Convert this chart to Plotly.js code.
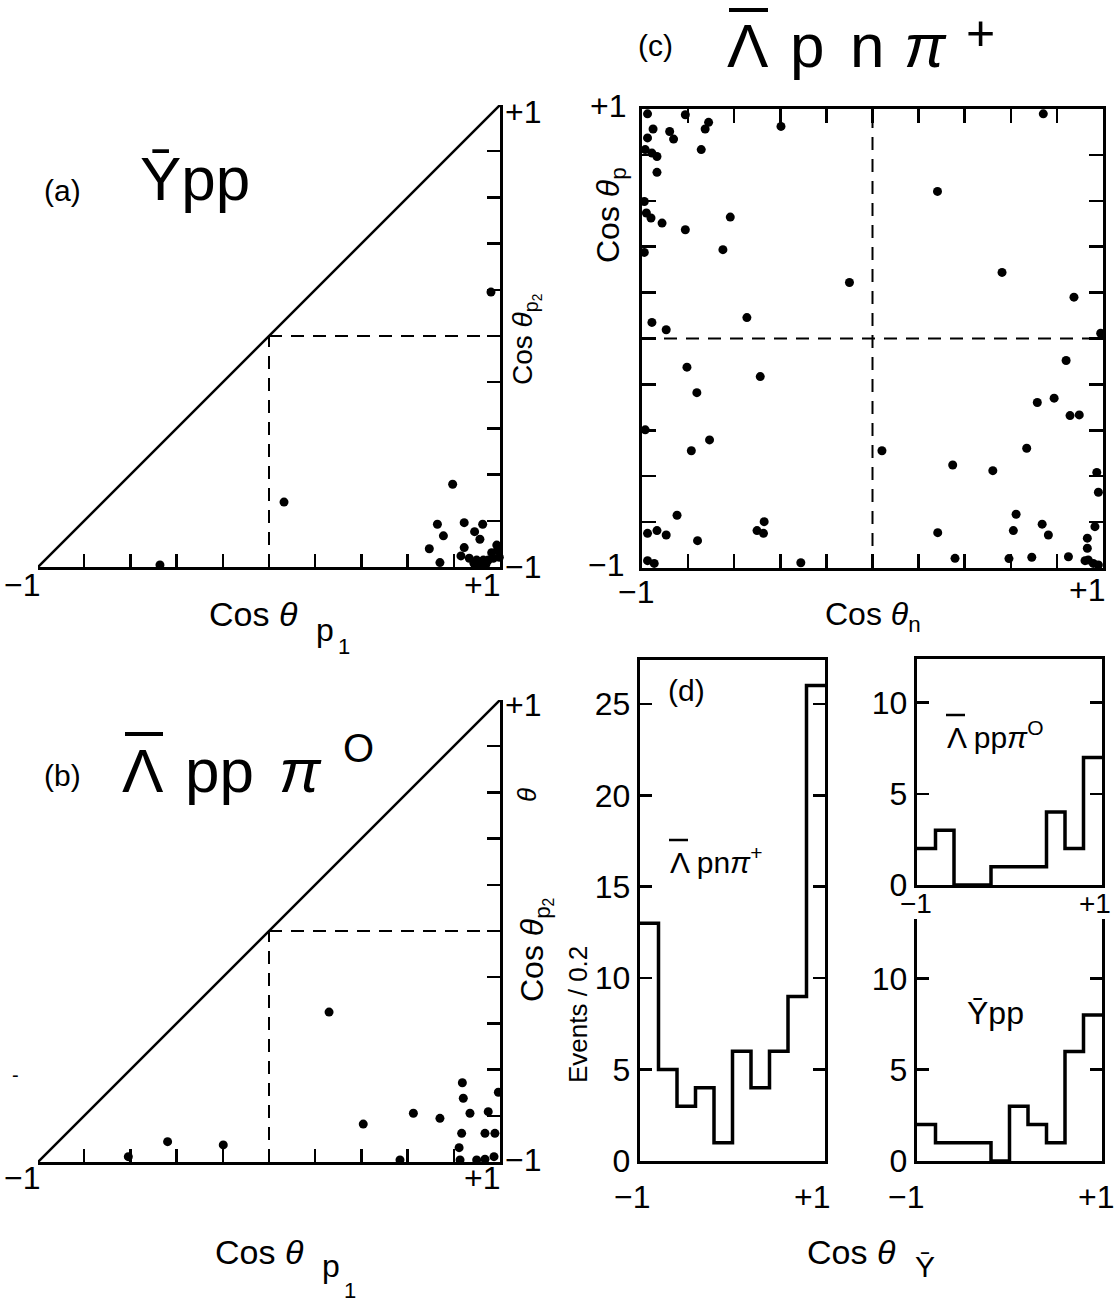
<!DOCTYPE html>
<html>
<head>
<meta charset="utf-8">
<script src="https://cdn.plot.ly/plotly-3.0.1.min.js"></script>
<style>html,body{margin:0;padding:0;background:#fff;}#chart{width:1115px;height:1302px;}</style>
</head>
<body>
<div id="chart"></div>
<script>
// ---------- DATA ----------
// (a) Ybar p p : cos theta_p1 vs cos theta_p2
const yppCosP1 = [-0.472, 0.065, 0.961, 0.795, 0.729, 0.845, 0.925, 0.755, 0.890, 0.913, 0.694, 0.845, 0.831, 0.740, 0.867, 0.899, 0.928, 0.949, 0.964, 0.990, 0.986, 0.971, 0.997, 0.913, 0.939, 0.887];
const yppCosP2 = [-0.991, -0.719, 0.190, -0.642, -0.815, -0.808, -0.815, -0.865, -0.847, -0.880, -0.921, -0.916, -0.952, -0.981, -0.962, -0.970, -0.970, -0.970, -0.938, -0.926, -0.905, -0.962, -0.958, -0.991, -0.988, -0.984];
// (b) Lambdabar p p pi0
const lppCosP1 = [0.260, -0.439, -0.198, -0.609, 0.408, 0.625, 0.740, 0.837, 0.841, 0.870, 0.949, 0.993, 0.834, 0.935, 0.978, 0.823, 0.827, 0.899, 0.935, 0.974, 0.567];
const lppCosP2 = [-0.351, -0.912, -0.926, -0.977, -0.836, -0.789, -0.811, -0.657, -0.724, -0.789, -0.782, -0.698, -0.876, -0.876, -0.876, -0.938, -0.991, -0.991, -0.988, -0.977, -0.991];
// (c) Lambdabar p n pi+ : cos theta_n vs cos theta_p
const lpnCosN = [-0.976, -0.812, -0.952, -0.976, -0.880, -0.863, -0.726, -0.711, -0.397, -0.986, -0.957, -0.935, -0.743, -0.935, -0.990, -0.981, -0.961, -0.913, -0.812, -0.617, -0.649, -0.990, -0.100, -0.957, -0.895, -0.545,
  0.741, 0.282, 0.562, 0.874, 0.990,
  -0.805, -0.487, -0.762, -0.986, -0.707, -0.786, -0.848, -0.976, -0.935, -0.895, -0.501, -0.470, -0.473, -0.759, -0.976, -0.947, -0.311,
  0.840, 0.715, 0.788, 0.857, 0.897, 0.041, 0.348, 0.522, 0.669, 0.973, 0.980, 0.623, 0.611, 0.736, 0.763, 0.283, 0.965, 0.932, 0.358, 0.592, 0.691, 0.850, 0.932, 0.936, 0.958, 0.980, 0.922];
const lpnCosP = [0.979, 0.975, 0.913, 0.874, 0.902, 0.869, 0.913, 0.942, 0.924, 0.823, 0.808, 0.793, 0.823, 0.724, 0.597, 0.547, 0.525, 0.503, 0.474, 0.529, 0.387, 0.375, 0.244, 0.070, 0.038, 0.091,
  0.979, 0.641, 0.288, 0.180, 0.023,
  -0.125, -0.166, -0.236, -0.398, -0.442, -0.489, -0.770, -0.849, -0.837, -0.856, -0.837, -0.798, -0.849, -0.881, -0.968, -0.980, -0.977,
  -0.096, -0.279, -0.260, -0.336, -0.333, -0.489, -0.551, -0.576, -0.478, -0.584, -0.670, -0.766, -0.837, -0.809, -0.856, -0.846, -0.820, -0.870, -0.958, -0.959, -0.953, -0.951, -0.914, -0.965, -0.980, -0.987, -0.968];
// (d) histograms of cos theta_Ybar, events per 0.2
const binEdges = [-1, -0.8, -0.6, -0.4, -0.2, 0, 0.2, 0.4, 0.6, 0.8, 1];
const histLpn = [13, 5, 3, 4, 1, 6, 4, 6, 9, 26];
const histLpp = [2, 3, 0, 0, 1, 1, 1, 4, 2, 7];
const histYpp = [2, 1, 1, 1, 0, 3, 2, 1, 6, 8];
const histTicks = [0, 5, 10, 15, 20, 25];
const histTickText = ['0', '5', '10', '15', '20', '25'];
const cosRange = [-1, 1];

// ---------- LAYOUT HELPERS ----------
const W = 1115, H = 1302;
const FONT = 'Liberation Sans, Arial, sans-serif';
const dxp = (a, b) => [a / W, b / W];
const dyp = (top, bot) => [1 - bot / H, 1 - top / H];
const PX = x => x / W, PY = y => 1 - y / H;

function stepY(v) { return v.concat([v[v.length - 1]]); }

const dot = {color: '#000', size: 9};
const traces = [];
traces.push({x: cosRange, y: cosRange, xaxis: 'x', yaxis: 'y', mode: 'lines', line: {color: '#000', width: 2.5}, hoverinfo: 'skip', cliponaxis: false});
traces.push({x: cosRange, y: cosRange, xaxis: 'x2', yaxis: 'y2', mode: 'lines', line: {color: '#000', width: 2.5}, hoverinfo: 'skip', cliponaxis: false});
traces.push({x: yppCosP1, y: yppCosP2, xaxis: 'x', yaxis: 'y', mode: 'markers', marker: dot, cliponaxis: false});
traces.push({x: lppCosP1, y: lppCosP2, xaxis: 'x2', yaxis: 'y2', mode: 'markers', marker: dot, cliponaxis: false});
traces.push({x: lpnCosN, y: lpnCosP, xaxis: 'x3', yaxis: 'y3', mode: 'markers', marker: dot, cliponaxis: false});
const hline = {color: '#000', width: 3.5, shape: 'hv'};
traces.push({x: binEdges, y: stepY(histLpn), xaxis: 'x4', yaxis: 'y4', mode: 'lines', line: hline, cliponaxis: false});
traces.push({x: binEdges, y: stepY(histLpp), xaxis: 'x5', yaxis: 'y5', mode: 'lines', line: hline, cliponaxis: false});
traces.push({x: binEdges, y: stepY(histYpp), xaxis: 'x6', yaxis: 'y6', mode: 'lines', line: hline, cliponaxis: false});

const baseAx = {showgrid: false, zeroline: false, showline: true, linecolor: '#000', linewidth: 3.2,
  ticks: 'inside', tickcolor: '#000', tickwidth: 2.5, ticklen: 13, fixedrange: true};
const cosAx = Object.assign({}, baseAx, {range: cosRange, tick0: -1, dtick: 0.2, showticklabels: false});

const layout = {
  width: W, height: H, margin: {l: 0, r: 0, t: 0, b: 0},
  paper_bgcolor: '#fff', plot_bgcolor: 'rgba(0,0,0,0)', showlegend: false,
  font: {family: FONT, color: '#000', size: 30},
  xaxis: Object.assign({}, cosAx, {domain: dxp(38, 500), anchor: 'y'}),
  yaxis: Object.assign({}, cosAx, {domain: dyp(105, 567), anchor: 'x', side: 'right'}),
  xaxis2: Object.assign({}, cosAx, {domain: dxp(38, 500), anchor: 'y2'}),
  yaxis2: Object.assign({}, cosAx, {domain: dyp(700, 1162), anchor: 'x2', side: 'right'}),
  xaxis3: Object.assign({}, cosAx, {domain: dxp(642, 1103), anchor: 'y3', mirror: 'ticks', ticklen: 14}),
  yaxis3: Object.assign({}, cosAx, {domain: dyp(109, 568), anchor: 'x3', mirror: 'ticks', ticklen: 14}),
  xaxis4: Object.assign({}, baseAx, {domain: dxp(640, 825), anchor: 'y4', range: cosRange, ticks: '', showticklabels: false, mirror: true}),
  yaxis4: Object.assign({}, baseAx, {domain: dyp(660, 1161), anchor: 'x4', range: [0, 27.4], tickvals: histTicks, ticktext: histTickText, mirror: 'ticks', ticklen: 12, tickfont: {size: 32}}),
  xaxis5: Object.assign({}, baseAx, {domain: dxp(917, 1102), anchor: 'y5', range: cosRange, ticks: '', showticklabels: false, mirror: true}),
  yaxis5: Object.assign({}, baseAx, {domain: dyp(659, 885), anchor: 'x5', range: [0, 12.4], tickvals: histTicks, ticktext: histTickText, mirror: 'ticks', ticklen: 12, tickfont: {size: 32}}),
  xaxis6: Object.assign({}, baseAx, {domain: dxp(917, 1102), anchor: 'y6', range: cosRange, ticks: '', showticklabels: false, mirror: false}),
  yaxis6: Object.assign({}, baseAx, {domain: dyp(919, 1161), anchor: 'x6', range: [0, 13.25], tickvals: histTicks, ticktext: histTickText, mirror: 'ticks', ticklen: 12, tickfont: {size: 32}}),
  shapes: [],
  annotations: []
};

const dash = {color: '#000', width: 2, dash: '13px,9px'};
layout.shapes.push({type: 'line', xref: 'x', yref: 'y', x0: 0, x1: 0, y0: -1, y1: 0, line: dash});
layout.shapes.push({type: 'line', xref: 'x', yref: 'y', x0: 0, x1: 1, y0: 0, y1: 0, line: dash});
layout.shapes.push({type: 'line', xref: 'x2', yref: 'y2', x0: 0, x1: 0, y0: -1, y1: 0, line: dash});
layout.shapes.push({type: 'line', xref: 'x2', yref: 'y2', x0: 0, x1: 1, y0: 0, y1: 0, line: dash});
layout.shapes.push({type: 'line', xref: 'x3', yref: 'y3', x0: 0, x1: 0, y0: -1, y1: 1, line: dash});
layout.shapes.push({type: 'line', xref: 'x3', yref: 'y3', x0: -1, x1: 1, y0: 0, y1: 0, line: dash});

// overbar (for the anti-Lambda symbol) in page pixels
function bar(x0, x1, y, w) {
  layout.shapes.push({type: 'line', xref: 'paper', yref: 'paper', x0: PX(x0), x1: PX(x1), y0: PY(y), y1: PY(y), line: {color: '#000', width: w || 3}});
}
function ann(text, x, y, size, opts) {
  layout.annotations.push(Object.assign({text: text, x: PX(x), y: PY(y), xref: 'paper', yref: 'paper',
    showarrow: false, xanchor: 'center', yanchor: 'middle', font: {family: FONT, size: size, color: '#000'}}, opts || {}));
}
const M = '\u2212';
// panel (a)
ann('(a)', 62, 190, 30);
ann('\u0232pp', 195, 178, 62);
ann(M + '1', 22, 585, 32); ann('+1', 482, 585, 32);
ann('+1', 523, 112, 32); ann(M + '1', 523, 567, 32);
ann('Cos <i>θ</i>', 207, 614, 34, {xanchor: 'left'});
ann('p', 314, 630, 32, {xanchor: 'left'});
ann('1', 336, 647, 22, {xanchor: 'left'});
ann('Cos <i>θ</i><sub>p<sub>2</sub></sub>', 526, 340, 28, {textangle: -90});
// panel (b)
ann('(b)', 62, 775, 30);
ann('\u039B', 143, 770, 62); bar(125, 163, 734, 4);
ann('pp', 220, 770, 62);
ann('<i>π</i>', 300, 770, 62);
ann('O', 358, 748, 40);
ann(M + '1', 22, 1178, 32); ann('+1', 482, 1178, 32);
ann('+1', 523, 705, 32); ann(M + '1', 523, 1160, 32);
ann('Cos <i>θ</i>', 213, 1252, 34, {xanchor: 'left'});
ann('p', 320, 1266, 32, {xanchor: 'left'});
ann('1', 350, 1290, 22);
ann('Cos <i>θ</i><sub>p<sub>2</sub></sub>', 535, 950, 32, {textangle: -90});
ann('<i>θ</i>', 527, 795, 26, {textangle: -90});
ann('-', 15, 1075, 20);
// panel (c)
ann('(c)', 655, 45, 30);
ann('\u039B', 748, 45, 62); bar(729, 768, 10, 4);
ann('p', 807, 45, 62);
ann('n', 867, 45, 62);
ann('<i>π</i>', 925, 45, 62);
ann('+', 980, 33, 50);
ann('+1', 608, 106, 32); ann(M + '1', 606, 565, 32);
ann(M + '1', 636, 592, 32); ann('+1', 1087, 590, 32);
ann('Cos <i>θ</i><sub>n</sub>', 873, 617, 32);
ann('Cos <i>θ</i><sub>p</sub>', 610, 215, 32, {textangle: -90});
// panel (d)
ann('(d)', 686, 690, 30);
ann('\u039B pn<i>π</i><sup>+</sup>', 668, 860, 30, {xanchor: 'left'}); bar(669, 688, 840, 2.5);
ann('\u039B pp<i>π</i><sup>O</sup>', 945, 735, 30, {xanchor: 'left'}); bar(946, 965, 715, 2.5);
ann('\u0232pp', 995, 1013, 32);
ann('Events / 0.2', 578, 1015, 26, {textangle: -90});
ann(M + '1', 632, 1197, 32); ann('+1', 812, 1197, 32);
ann(M + '1', 916, 904, 28); ann('+1', 1095, 904, 28);
ann(M + '1', 906, 1197, 32); ann('+1', 1096, 1197, 32);
ann('Cos <i>θ</i>', 805, 1252, 34, {xanchor: 'left'});
ann('\u0232', 925, 1266, 30);

Plotly.newPlot('chart', traces, layout, {staticPlot: true});
</script>
</body>
</html>
